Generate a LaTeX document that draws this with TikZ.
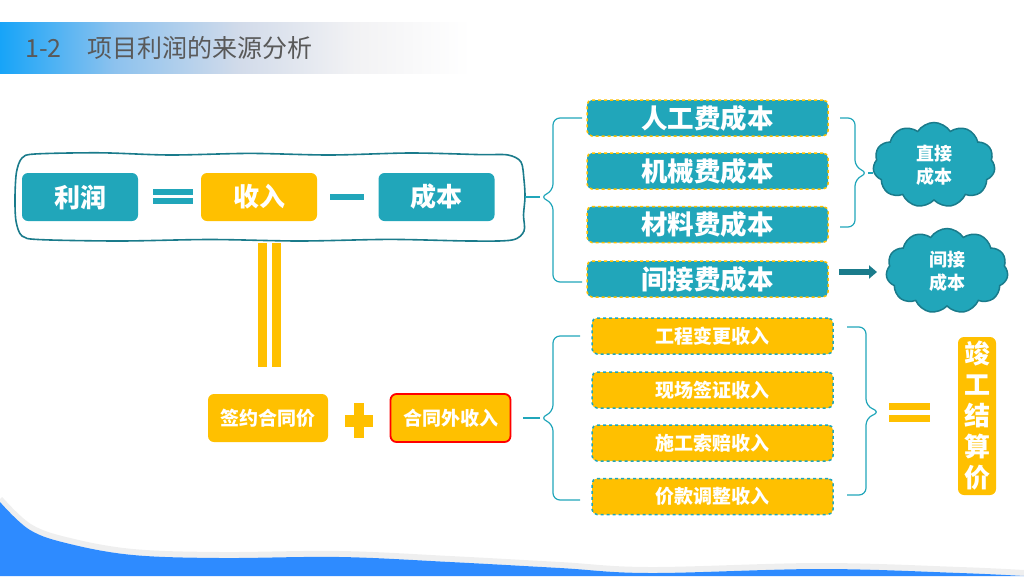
\documentclass[tikz,border=0pt]{standalone}
\usepackage{fontspec}
\setmainfont{Noto Sans CJK SC}
\usetikzlibrary{shapes.symbols,arrows.meta}
\definecolor{tealbox}{HTML}{21A6BA}
\definecolor{tealdark}{HTML}{1A7B8B}
\definecolor{amber}{HTML}{FFC000}
\definecolor{titlegray}{HTML}{595959}
\definecolor{wavebl}{HTML}{2E8BFF}
\definecolor{tbA}{HTML}{17A4F8}
\definecolor{tbB}{HTML}{8DC2EE}
\definecolor{tbC}{HTML}{D2DBEA}
\definecolor{tbD}{HTML}{F2F2F4}
\pgfdeclarehorizontalshading{titlebar}{100bp}{color(0bp)=(tbA); color(25bp)=(tbA); color(37bp)=(tbB); color(50bp)=(tbC); color(62bp)=(tbD); color(74bp)=(white); color(100bp)=(white)}
\begin{document}
\begin{tikzpicture}[x=1pt, y=-1pt, >=Stealth,
  bigfont/.style={font=\bfseries\fontsize{26pt}{30pt}\selectfont},
  tbox/.style={fill=tealbox, text=white, rounded corners=6pt, minimum width=116pt, minimum height=48pt, inner sep=0pt, bigfont},
  ybox/.style={tbox, fill=amber},
  cbox/.style={fill=tealbox, draw=amber, dashed, line width=1.5pt, rounded corners=5pt, minimum width=241pt, minimum height=36pt, inner sep=0pt, text=white, font=\bfseries\fontsize{26.5pt}{30pt}\selectfont},
  ibox/.style={cbox, fill=amber, draw=tealbox, font=\bfseries\fontsize{19pt}{22pt}\selectfont},
  sbox/.style={ybox, minimum width=120pt, font=\bfseries\fontsize{19pt}{22pt}\selectfont},
  cloudbox/.style={cloud, cloud puffs=11, cloud puff arc=115, cloud ignores aspect, minimum width=122pt, minimum height=85pt, fill=tealbox, draw=tealdark, line width=1.5pt, text=white, align=center, inner sep=0pt, font=\bfseries\fontsize{18pt}{23pt}\selectfont},
  brc/.style={draw=tealbox, line width=1.2pt, rounded corners=7pt}]
\useasboundingbox (0,0) rectangle (1024,576);

% 1. 底部波浪
\draw[black!10, line width=6pt, opacity=0.6] plot[smooth, tension=0.6] coordinates {(0,499) (30,527) (70,541) (133,552) (220,555) (340,554) (450,559) (560,565) (650,570) (820,566) (960,570) (1024,573)};
\fill[wavebl] plot[smooth, tension=0.6] coordinates {(0,502) (30,530) (70,544) (133,555) (220,558) (340,557) (450,562) (560,568) (650,573) (820,569) (960,573) (1024,576)} -- (1024,576) -- (0,576) -- cycle;

% 2. 标题
\shade[shading=titlebar] (0,22) rectangle (480,73);
\node[anchor=west, text=titlegray, inner sep=0pt, font=\fontsize{25pt}{30pt}\selectfont] (title) at (25,48) {1-2\hspace{26pt}项目利润的来源分析};

% 3. 利润 = 收入 - 成本 (手绘外框)
\node[minimum width=510pt, minimum height=87pt] (gs) at (270,197) {};
\draw[tealdark, line width=1.6pt] plot[smooth cycle, tension=0.5] coordinates {(35,154) (100,152.8) (170,155) (250,153.4) (330,155) (410,153) (480,154.6) (508,155) (521,162) (524,180) (525,197) (523.5,215) (524,231) (512,240) (470,241) (390,239.4) (300,241) (210,239.5) (120,241) (40,239.6) (22,236) (16,221) (15,197) (16.5,172) (22,158)};
\node[tbox] (lr) at (80,197) {利润};
\node[ybox] (sr) at (259,197) {收入};
\node[tbox] (cb) at (436.5,197) {成本};
\fill[tealbox] (153,189) rectangle (193,195);
\fill[tealbox] (153,198) rectangle (193,204);
\fill[tealbox] (330,194) rectangle (364,200);

% 4. 成本构成
\node[cbox] (rg) at (707.5,118) {人工费成本};
\node[cbox] (jx) at (707.5,171) {机械费成本};
\node[cbox] (cl) at (707.5,224.5) {材料费成本};
\node[cbox] (jj) at (707.5,279) {间接费成本};
\coordinate (ct) at (540,197);
\draw[brc] (582,118) -- (553,118) -- (553,191) -- (ct) -- (553,203) -- (553,282) -- (582,282);
\draw[tealbox, line width=1.2pt] (gs.east) -- (ct);

% 5. 直接成本 / 间接成本
\node[cloudbox] (zj) at (934,165) {直接\\成本};
\node[cloudbox] (jy) at (947,271) {间接\\成本};
\coordinate (dt) at (868,173);
\draw[brc] (840,118) -- (855,118) -- (855,167) -- (dt) -- (855,179) -- (855,227) -- (840,227);
\draw[tealbox, line width=1.2pt] (dt) -- (dt -| zj.west);
\coordinate (as) at ([xshift=10pt]jj.east);
\coordinate (ae) at (877,272);
\draw[tealdark, line width=6pt, -{Triangle[length=8pt,width=13pt]}] (as |- ae) -- (ae);

% 6. 收入 = 签约合同价 + 合同外收入
\fill[amber] (258,243) rectangle (267,367);
\fill[amber] (272,243) rectangle (281,367);
\node[sbox] (qy) at (268,418) {签约合同价};
\fill[amber] (345,415) rectangle (373,427);
\fill[amber] (354,403) rectangle (364,438);
\node[sbox, draw=red, line width=1.8pt] (wai) at (450.5,418) {合同外收入};

% 7. 合同外收入构成
\node[ibox] (bg) at (712.5,336) {工程变更收入};
\node[ibox] (qz) at (712.5,390) {现场签证收入};
\node[ibox] (sp) at (712.5,443) {施工索赔收入};
\node[ibox] (tz) at (712.5,496.5) {价款调整收入};
\coordinate (it) at (540,418);
\draw[brc] (580,336) -- (553,336) -- (553,412) -- (it) -- (553,424) -- (553,500) -- (580,500);
\draw[tealbox, line width=1.2pt] ([xshift=12pt]wai.east) -- (it);
\coordinate (rt) at (880,412);
\draw[brc] (847,327) -- (866,327) -- (866,406) -- (rt) -- (866,418) -- (866,495) -- (847,495);

% 8. 竣工结算价
\fill[amber] (889,403) rectangle (930,410);
\fill[amber] (889,415) rectangle (930,422);
\node[ybox, minimum width=38pt, minimum height=158pt, align=center, font=\bfseries\fontsize{26pt}{31pt}\selectfont] (jg) at (977,416) {竣\\工\\结\\算\\价};
\end{tikzpicture}
\end{document}
